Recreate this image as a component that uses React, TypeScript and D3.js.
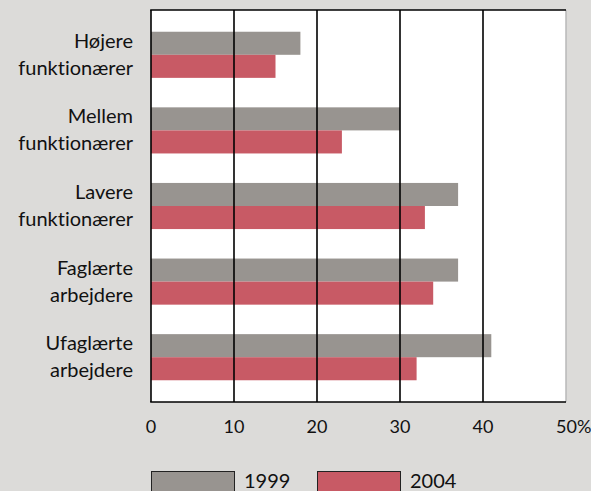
import React, { useRef, useEffect } from "react";
import * as d3 from "d3";

const categories = [
  ["Højere", "funktionærer"],
  ["Mellem", "funktionærer"],
  ["Lavere", "funktionærer"],
  ["Faglærte", "arbejdere"],
  ["Ufaglærte", "arbejdere"],
];
const values1999 = [18, 30, 37, 37, 41];
const values2004 = [15, 23, 33, 34, 32];
const ticks = [0, 10, 20, 30, 40, 50];
const seriesNames = ["1999", "2004"];
const colors = ["#989490", "#c85a65"];

const App = () => {
  const svgRef = useRef<SVGSVGElement>(null);

  useEffect(() => {
    const width = 591;
    const height = 491;
    const font = "Lato, 'DejaVu Sans', sans-serif";

    const svg = d3
      .select(svgRef.current)
      .attr("width", width)
      .attr("height", height)
      .style("font-variant-ligatures", "none");
    svg.selectAll("*").remove();

    svg.append("rect").attr("width", width).attr("height", height).attr("fill", "#dcdbd9");

    const x = d3.scaleLinear().domain([0, 50]).range([151, 566]);
    const y = d3
      .scaleBand<number>()
      .domain(d3.range(categories.length))
      .range([17, 395])
      .paddingInner(0.39)
      .paddingOuter(0.195);
    const top = 10;
    const bottom = 402;

    // plot background + shadowed right edge
    svg
      .append("rect")
      .attr("x", x(0))
      .attr("y", top)
      .attr("width", x(50) - x(0))
      .attr("height", bottom - top)
      .attr("fill", "#fff");
    svg
      .append("line")
      .attr("x1", x(50))
      .attr("x2", x(50))
      .attr("y1", top)
      .attr("y2", bottom)
      .attr("stroke", "#b8b8b8")
      .attr("stroke-width", 1.5);

    const bh = y.bandwidth() / 2;
    const g = svg.append("g");
    [values1999, values2004].forEach((vals, s) => {
      g.selectAll(`.bar${s}`)
        .data(vals)
        .enter()
        .append("rect")
        .attr("x", x(0))
        .attr("y", (d, i) => (y(i) as number) + s * bh)
        .attr("width", (d) => x(d) - x(0))
        .attr("height", bh)
        .attr("fill", colors[s]);
    });

    // gridlines drawn over bars
    svg
      .selectAll(".grid")
      .data(ticks.slice(0, -1))
      .enter()
      .append("line")
      .attr("x1", (d) => x(d))
      .attr("x2", (d) => x(d))
      .attr("y1", top)
      .attr("y2", bottom)
      .attr("stroke", "#000")
      .attr("stroke-width", 1.6);
    [top, bottom].forEach((yy) =>
      svg
        .append("line")
        .attr("x1", x(0) - 0.8)
        .attr("x2", x(50))
        .attr("y1", yy)
        .attr("y2", yy)
        .attr("stroke", "#000")
        .attr("stroke-width", 1.6)
    );

    // tick labels
    svg
      .selectAll(".tick")
      .data(ticks)
      .enter()
      .append("text")
      .attr("x", (d) => (d === 50 ? x(d) - 10 : x(d)))
      .attr("y", 433)
      .attr("text-anchor", (d) => (d === 50 ? "start" : "middle"))
      .attr("font-family", font)
      .attr("font-size", 18)
      .attr("fill", "#111")
      .text((d) => (d === 50 ? "50%" : String(d)));

    // category labels
    categories.forEach((lines, i) => {
      const cy = (y(i) as number) + y.bandwidth() / 2;
      const t = svg
        .append("text")
        .attr("text-anchor", "end")
        .attr("font-family", font)
        .attr("font-size", 20)
        .attr("fill", "#111");
      lines.forEach((ln, k) =>
        t
          .append("tspan")
          .attr("x", 133)
          .attr("y", cy - 7 + k * 27)
          .text(ln)
      );
    });

    // legend
    seriesNames.forEach((name, s) => {
      const lx = x(s * 20);
      svg
        .append("rect")
        .attr("x", lx + 0.5)
        .attr("y", 471.5)
        .attr("width", x(10) - x(0))
        .attr("height", 30)
        .attr("fill", colors[s])
        .attr("stroke", "#222")
        .attr("stroke-width", 1);
      svg
        .append("text")
        .attr("x", lx + (x(10) - x(0)) + 10)
        .attr("y", 488)
        .attr("font-family", font)
        .attr("font-size", 20)
        .attr("fill", "#111")
        .text(name);
    });
  }, []);

  return (
    <div style={{ position: "fixed", top: 0, left: 0, overflow: "hidden" }}>
      <svg ref={svgRef} style={{ display: "block" }}></svg>
    </div>
  );
};

export default App;
